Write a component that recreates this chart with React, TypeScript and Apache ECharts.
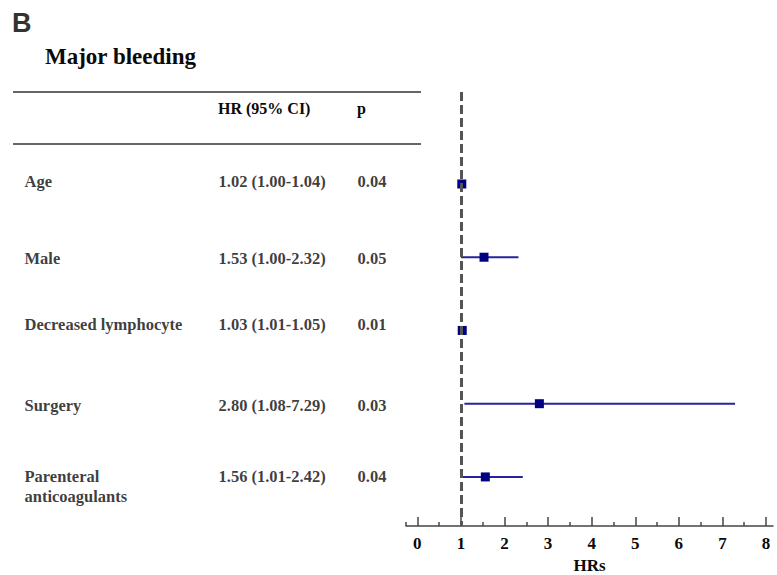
import React, { useEffect, useRef } from "react";
import * as echarts from "echarts";

const names = ["Age", "Male", "Decreased lymphocyte", "Surgery", "Parenteral\nanticoagulants"];
const hr = [1.02, 1.53, 1.03, 2.8, 1.56];
const ciLow = [1.0, 1.0, 1.01, 1.08, 1.01];
const ciHigh = [1.04, 2.32, 1.05, 7.29, 2.42];
const pValues = ["0.04", "0.05", "0.01", "0.03", "0.04"];
const xMajorTicks = [0, 1, 2, 3, 4, 5, 6, 7, 8];
const xMinorTicks = [-0.26, 0.5, 1.5, 2.5, 3.5, 4.5, 5.5, 6.5, 7.5];
const refLine = 1;

// layout constants (pixels)
const COL_NAME = 24;
const COL_HR = 218;
const COL_P = 357;
const textOffsets = [-2, 1, -6, 2, 0];

const SERIF = "Liberation Serif";
const INK = "#0a0a0a";

export default function App() {
  const ref = useRef<HTMLDivElement>(null);
  useEffect(() => {
    if (!ref.current) return;
    const chart = echarts.init(ref.current, undefined, { renderer: "svg" });
    const yMin = -1.256;
    const yMax = 4.67;
    const textStyle = { fontFamily: SERIF, fontWeight: "bold" as const, fontSize: 16.5, color: INK };
    const mkTextSeries = (col: number, texts: string[], isName: boolean) => ({
      type: "scatter",
      xAxisIndex: 2,
      yAxisIndex: 1,
      symbol: "circle",
      symbolSize: 1,
      itemStyle: { color: "rgba(0,0,0,0)" },
      silent: true,
      z: 5,
      data: texts.map((t, i) => {
        const multi = t.includes("\n");
        return {
          value: [col, i],
          label: {
            show: true,
            position: "right",
            distance: 0,
            formatter: t,
            ...textStyle,
            lineHeight: 20,
            verticalAlign: "middle",
            offset: [0, textOffsets[i] + (isName && multi ? 10 : 0)],
          },
        };
      }),
    });
    const hrTexts = hr.map((v, i) => `${v.toFixed(2)} (${ciLow[i].toFixed(2)}-${ciHigh[i].toFixed(2)})`);

    chart.setOption({
      animation: false,
      backgroundColor: "#fff",
      grid: [
        { left: 406, right: 4, top: 92, bottom: 49, outerBoundsMode: "none", containLabel: false },
        { left: 0, width: 420, top: 92, bottom: 49, outerBoundsMode: "none", containLabel: false },
      ],
      xAxis: [
        {
          type: "value",
          gridIndex: 0,
          min: -0.26,
          max: 8.16,
          splitLine: { show: false },
          axisLine: { show: true, onZero: false, lineStyle: { color: "#444", width: 1.5 } },
          axisTick: { show: true, inside: true, length: 9, customValues: xMajorTicks, lineStyle: { color: "#444", width: 1.5 } },
          axisLabel: {
            show: true,
            customValues: xMajorTicks,
            margin: 9,
            fontFamily: SERIF,
            fontWeight: "bold",
            fontSize: 17,
            color: INK,
          },
          name: "HRs",
          nameLocation: "middle",
          nameGap: 31,
          nameTextStyle: { fontFamily: SERIF, fontWeight: "bold", fontSize: 17, color: INK },
        },
        {
          type: "value",
          gridIndex: 0,
          min: -0.26,
          max: 8.16,
          position: "bottom",
          splitLine: { show: false },
          axisLine: { show: false, onZero: false },
          axisTick: { show: true, inside: true, length: 4, customValues: xMinorTicks, lineStyle: { color: "#444", width: 1.5 } },
          axisLabel: { show: false },
        },
        { type: "value", gridIndex: 1, min: 0, max: 420, show: false },
      ],
      yAxis: [
        { type: "value", gridIndex: 0, min: yMin, max: yMax, inverse: true, show: false },
        { type: "value", gridIndex: 1, min: yMin, max: yMax, inverse: true, show: false },
      ],
      graphic: [
        {
          type: "text",
          left: 12,
          top: 9,
          style: { text: "B", fontFamily: "Liberation Sans", fontWeight: "bold", fontSize: 27, fill: "#333" },
        },
        {
          type: "text",
          left: 45,
          top: 45,
          style: { text: "Major bleeding", fontFamily: SERIF, fontWeight: "bold", fontSize: 23, fill: INK },
        },
        { type: "line", shape: { x1: 13, y1: 92, x2: 421, y2: 92 }, style: { stroke: "#666", lineWidth: 2 } },
        { type: "line", shape: { x1: 13, y1: 144, x2: 421, y2: 144 }, style: { stroke: "#666", lineWidth: 2 } },
        {
          type: "text",
          left: COL_HR,
          top: 100,
          style: { text: "HR (95% CI)", fontFamily: SERIF, fontWeight: "bold", fontSize: 16, fill: INK },
        },
        {
          type: "text",
          left: COL_P,
          top: 100,
          style: { text: "p", fontFamily: SERIF, fontWeight: "bold", fontSize: 16, fill: INK },
        },
      ],
      series: [
        {
          type: "custom",
          xAxisIndex: 0,
          yAxisIndex: 0,
          z: 2,
          encode: { x: [1, 2], y: 0 },
          data: names.map((_, i) => [i, ciLow[i], ciHigh[i]]),
          renderItem: (params: any, api: any) => {
            const a = api.coord([api.value(1), api.value(0)]);
            const b = api.coord([api.value(2), api.value(0)]);
            return {
              type: "line",
              shape: { x1: a[0], y1: a[1], x2: b[0], y2: b[1] },
              style: { stroke: "#25259a", lineWidth: 2 },
            };
          },
          markLine: {
            silent: true,
            symbol: ["none", "none"],
            label: { show: false },
            lineStyle: { color: "#555", width: 3, type: [9, 4] },
            data: [{ xAxis: refLine }],
          },
        },
        {
          type: "scatter",
          xAxisIndex: 0,
          yAxisIndex: 0,
          z: 4,
          symbol: "rect",
          symbolSize: 9,
          itemStyle: { color: "#000080", opacity: 1 },
          data: hr.map((v, i) => [v, i]),
        },
        mkTextSeries(COL_NAME, names, true),
        mkTextSeries(COL_HR, hrTexts, false),
        mkTextSeries(COL_P, pValues, false),
      ],
    });
    return () => chart.dispose();
  }, []);
  return <div ref={ref} style={{ width: 777, height: 575, position: "absolute", left: 0, top: 0 }} />;
}
